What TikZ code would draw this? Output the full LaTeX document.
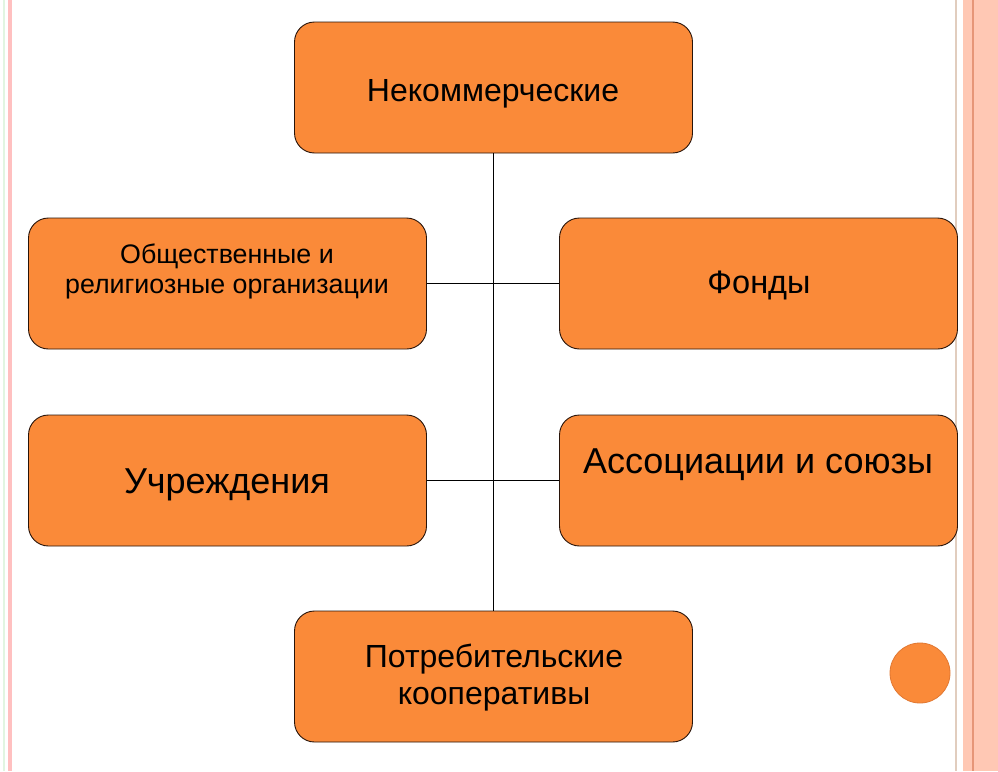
\documentclass[tikz,border=0pt]{standalone}
\usepackage{fontspec}
\setmainfont{Liberation Sans}
\definecolor{boxfill}{RGB}{250,138,57}
\definecolor{boxline}{RGB}{40,20,10}
\definecolor{circline}{RGB}{225,120,50}
\definecolor{stripe}{RGB}{255,200,180}
\definecolor{stripedark}{RGB}{230,150,120}
\definecolor{beige}{RGB}{225,205,190}
\definecolor{leftpink}{RGB}{255,192,192}
\definecolor{leftgreen}{RGB}{225,245,225}
\begin{document}
\begin{tikzpicture}[x=1pt,y=-1pt,
  orgbox/.style={draw=boxline,line width=0.9pt,fill=boxfill,rounded corners=20pt,
    minimum width=398pt,minimum height=131pt,inner sep=0pt},
  lbl/.style={anchor=base,inner sep=0pt,text=black},
  conn/.style={draw=black,line width=1.5pt}]
\useasboundingbox (0,0) rectangle (998,771);
\fill[white] (0,0) rectangle (998,771);
% page decoration
\fill[leftgreen] (2.5,0) rectangle (4.5,771);
\fill[leftpink] (8,0) rectangle (11.5,771);
\fill[beige] (954.5,0) rectangle (957,771);
\fill[stripe] (963,0) rectangle (998,771);
\fill[stripedark] (971.5,0) rectangle (973.5,771);
% boxes
\node[orgbox] (top) at (493.5,87.5) {};
\node[orgbox] (l1) at (227.5,283.5) {};
\node[orgbox] (r1) at (758.5,283.5) {};
\node[orgbox] (l2) at (227.5,480.5) {};
\node[orgbox] (r2) at (758.5,480.5) {};
\node[orgbox] (bot) at (493.5,676.5) {};
% connectors
\draw[conn] (top.south) -- (bot.north);
\draw[conn] (l1.east) -- (r1.west);
\draw[conn] (l2.east) -- (r2.west);
% labels
\node[lbl,font=\fontsize{32}{38}\selectfont] (ttop) at (493,101) {Некоммерческие};
\node[lbl,font=\fontsize{26.8}{32}\selectfont] (tl1a) at (227,263) {Общественные и};
\node[lbl,font=\fontsize{26.8}{32}\selectfont] (tl1b) at (227,293) {религиозные организации};
\node[lbl,font=\fontsize{32.5}{38}\selectfont] (tr1) at (759,293) {Фонды};
\node[lbl,font=\fontsize{36}{42}\selectfont] (tl2) at (227,493) {Учреждения};
\node[lbl,font=\fontsize{36}{42}\selectfont] (tr2) at (758,473) {Ассоциации и союзы};
\node[lbl,font=\fontsize{32}{38}\selectfont] (tb1) at (494,667) {Потребительские};
\node[lbl,font=\fontsize{32}{38}\selectfont] (tb2) at (494,704) {кооперативы};
% decorative circle
\node[circle,fill=boxfill,draw=circline,line width=0.8pt,minimum size=60pt,inner sep=0pt] (dot) at (920,673) {};
\end{tikzpicture}
\end{document}
